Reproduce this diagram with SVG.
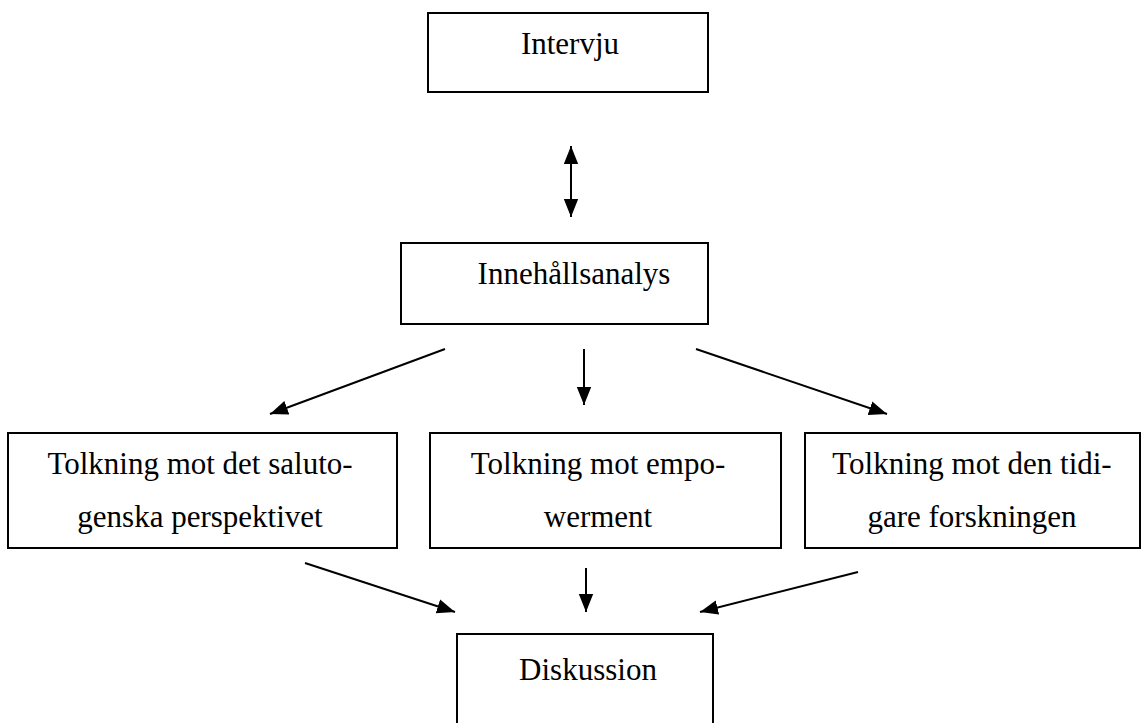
<svg xmlns="http://www.w3.org/2000/svg" width="1141" height="723" viewBox="0 0 1141 723">
  <style>
    .box { fill: #ffffff; stroke: #000000; stroke-width: 2; }
    .lbl { font-family: "Liberation Serif", "Times New Roman", serif; font-size: 31px; fill: #000000; text-anchor: middle; }
    .edge { stroke: #000000; stroke-width: 2; fill: none; }
  </style>
  <defs>
    <marker id="tip" viewBox="0 0 10 10" refX="10" refY="5" markerWidth="18" markerHeight="18" markerUnits="userSpaceOnUse" orient="auto-start-reverse">
      <path d="M0,1 L10,5 L0,9 Z" fill="#000000"/>
    </marker>
  </defs>

  <g id="intervju">
    <rect class="box" x="428" y="13" width="280" height="79"/>
    <text class="lbl" x="570" y="54">Intervju</text>
  </g>

  <g id="innehallsanalys">
    <rect class="box" x="401" y="243" width="307" height="81"/>
    <text class="lbl" x="574" y="284">Innehållsanalys</text>
  </g>

  <g id="tolkning-salutogen">
    <rect class="box" x="8" y="433" width="389" height="115"/>
    <text class="lbl" x="200" y="474">Tolkning mot det saluto-</text>
    <text class="lbl" x="200" y="527">genska perspektivet</text>
  </g>

  <g id="tolkning-empowerment">
    <rect class="box" x="430" y="433" width="351" height="115"/>
    <text class="lbl" x="598" y="474">Tolkning mot empo-</text>
    <text class="lbl" x="598" y="527">werment</text>
  </g>

  <g id="tolkning-forskning">
    <rect class="box" x="805" y="433" width="335" height="115"/>
    <text class="lbl" x="972" y="474">Tolkning mot den tidi-</text>
    <text class="lbl" x="972" y="527">gare forskningen</text>
  </g>

  <g id="diskussion">
    <rect class="box" x="457" y="634" width="256" height="100"/>
    <text class="lbl" x="588" y="680">Diskussion</text>
  </g>

  <g id="connectors">
    <line class="edge" x1="571" y1="146" x2="571" y2="217" marker-start="url(#tip)" marker-end="url(#tip)"/>
    <line class="edge" x1="445" y1="349" x2="270" y2="414" marker-end="url(#tip)"/>
    <line class="edge" x1="584" y1="349" x2="584" y2="405" marker-end="url(#tip)"/>
    <line class="edge" x1="696" y1="349" x2="887" y2="414" marker-end="url(#tip)"/>
    <line class="edge" x1="305" y1="563" x2="455" y2="612" marker-end="url(#tip)"/>
    <line class="edge" x1="586" y1="568" x2="586" y2="612" marker-end="url(#tip)"/>
    <line class="edge" x1="858" y1="572" x2="700" y2="612" marker-end="url(#tip)"/>
  </g>
</svg>
